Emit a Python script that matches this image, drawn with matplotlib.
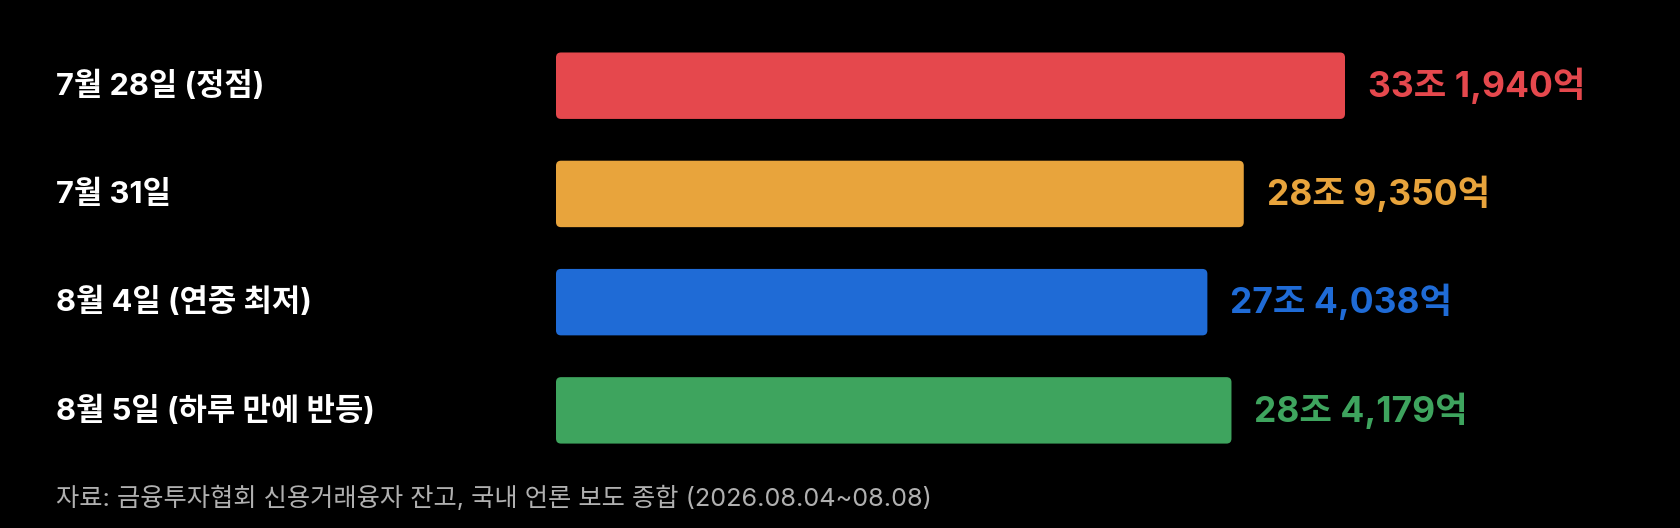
import matplotlib
matplotlib.use("Agg")
import matplotlib.pyplot as plt
from matplotlib.patches import FancyBboxPatch
from matplotlib.transforms import blended_transform_factory

# 데이터 (단위: 조원)
dates = ["7월 28일 (정점)", "7월 31일", "8월 4일 (연중 최저)", "8월 5일 (하루 만에 반등)"]
balances = [33.1940, 28.9350, 27.4038, 28.4179]
value_labels = ["33조 1,940억", "28조 9,350억", "27조 4,038억", "28조 4,179억"]
colors = ["#E5484D", "#E8A43C", "#1F6BD6", "#3EA45E"]
source = "자료: 금융투자협회 신용거래융자 잔고, 국내 언론 보도 종합 (2026.08.04~08.08)"

plt.rcParams["font.family"] = ["Inter", "Noto Sans CJK KR", "DejaVu Sans"]
plt.rcParams["axes.unicode_minus"] = False

W, H, DPI = 1680, 528, 100
fig = plt.figure(figsize=(W / DPI, H / DPI), dpi=DPI, facecolor="black")

# 막대 시작 x=556px, 최대값 끝 x=1345px
x0_px, xmax_px = 556, 1345
ax = fig.add_axes([x0_px / W, 0, 1 - x0_px / W, 1])
ax.set_facecolor("black")
ax.set_xlim(0, max(balances) * (W - x0_px) / (xmax_px - x0_px))
ax.set_ylim(4.087, -0.792)
ax.axis("off")

ypos = list(range(len(dates)))
bars = ax.barh(ypos, balances, height=0.614, color=colors)

# 모서리 둥글게
x_unit = (xmax_px - x0_px) / max(balances)
y_unit = 108.2
for b in bars:
    b.set_visible(False)
    patch = FancyBboxPatch(
        (b.get_x(), b.get_y()), b.get_width(), b.get_height(),
        boxstyle="round,pad=0,rounding_size=%f" % (5 / x_unit),
        mutation_aspect=x_unit / y_unit,
        facecolor=b.get_facecolor(), edgecolor="none",
    )
    ax.add_patch(patch)

# 값 라벨
for y, v, lab, c in zip(ypos, balances, value_labels, colors):
    ax.annotate(lab, (v, y), xytext=(16.5, 0), textcoords="offset points",
                ha="left", va="center", color=c, fontsize=25.5, fontweight="bold")

# 날짜 라벨
trans = blended_transform_factory(fig.transFigure, ax.transData)
for y, d in zip(ypos, dates):
    fig.text(56 / W, y, d, transform=trans, ha="left", va="center",
             color="white", fontsize=22.2, fontweight="bold")

fig.text(56 / W, 1 - 498 / H, source, ha="left", va="center",
         color="#B0B0B0", fontsize=18.2)

fig.savefig("out.png", dpi=DPI, facecolor="black")
